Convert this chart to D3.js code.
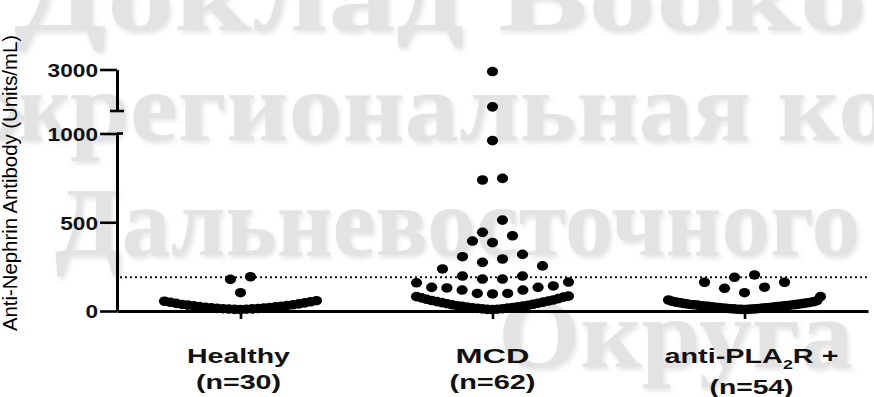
<!DOCTYPE html>
<html>
<head>
<meta charset="utf-8">
<script src="https://cdn.jsdelivr.net/npm/d3@7"></script>
<style>
  html, body { margin: 0; padding: 0; background: #fff; }
  svg { display: block; }
</style>
</head>
<body>
<svg id="chart" width="874" height="397"></svg>
<script>
// ---------------- data ----------------
const groups = ["Healthy", "MCD", "anti-PLA2R +"];
const groupCounts = ["(n=30)", "(n=62)", "(n=54)"];

const healthyValues = [178, 193, 103,
  8, 9, 10, 11, 12, 13, 14, 15, 17, 18, 20, 21, 23, 25, 27, 29,
  31, 33, 35, 37, 40, 43, 46, 49, 52, 55, 58];

const mcdValues = [2900, 1200, 960, 738, 747, 512, 424, 443, 385, 394,
  319, 306, 293, 274, 237, 254, 197, 180, 180, 197,
  159, 141, 133, 118, 99, 96, 99, 118, 130, 133, 163,
  8, 9, 10, 12, 13, 15, 16, 18, 20, 22, 24, 26, 28, 30, 32, 35,
  38, 41, 44, 47, 50, 53, 56, 59, 62, 66, 70, 74, 78, 81, 84];

const pla2rValues = [203, 190, 162, 162, 134, 128, 103, 81, 62,
  8, 9, 9, 10, 11, 12, 12, 13, 14, 15, 16, 17, 18, 19, 20, 21, 22, 24, 25, 26,
  27, 28, 29, 30, 31, 33, 34, 35, 36, 37, 39, 40, 42, 43, 45, 47, 48, 50, 52, 55, 58];

const lowerTicks = [0, 500, 1000];
const upperTicks = [3000];
const thresholdValue = 190;

const watermarkLines = ["Доклад Вооко", "жрегиональная ко", "Дальневосточного", "Округа"];

// ---------------- layout ----------------
const svg = d3.select("#chart");
svg.append("rect").attr("width", 874).attr("height", 397).attr("fill", "#fff");

const defs = svg.append("defs");
const f = defs.append("filter").attr("id", "sh").attr("x", "-5%").attr("y", "-10%").attr("width", "115%").attr("height", "130%");
f.append("feDropShadow").attr("dx", 2).attr("dy", 3).attr("stdDeviation", 2)
  .attr("flood-color", "#999").attr("flood-opacity", 0.25);

// watermark
const wmPos = [
  {x: 14, y: 30, len: 853},
  {x: -8, y: 140, len: 900},
  {x: 55, y: 255, len: 805},
  {x: 498, y: 367, len: 355}
];
const wm = svg.append("g").attr("filter", "url(#sh)");
watermarkLines.forEach((t, i) => {
  wm.append("text")
    .attr("x", wmPos[i].x).attr("y", wmPos[i].y)
    .attr("textLength", wmPos[i].len).attr("lengthAdjust", "spacingAndGlyphs")
    .attr("font-family", "'Liberation Serif', 'DejaVu Serif', serif")
    .attr("font-weight", "bold").attr("font-size", 98)
    .attr("fill", "#e3e3e3")
    .text(t);
});

// scales
const xAxisLeft = 117, xAxisRight = 868;
const x = d3.scalePoint().domain(groups).range([xAxisLeft, xAxisRight]).padding(0.49);
const yLow = d3.scaleLinear().domain([0, 1000]).range([311, 133.5]);
const yHigh = d3.scaleLinear().domain([1000, 3000]).range([111, 69.5]);
const y = v => (v <= 1000 ? yLow(v) : yHigh(v));

// threshold dotted line
svg.append("line")
  .attr("x1", 120).attr("x2", 867)
  .attr("y1", yLow(thresholdValue)).attr("y2", yLow(thresholdValue))
  .attr("stroke", "#111").attr("stroke-width", 2)
  .attr("stroke-dasharray", "2,3");

// axes
const axisColor = "#000";
function styleAxis(g) {
  g.selectAll("path.domain").attr("stroke", axisColor).attr("stroke-width", 3);
  g.selectAll(".tick line").attr("stroke", axisColor).attr("stroke-width", 2.6);
}

const gLow = svg.append("g").attr("transform", `translate(${xAxisLeft},0)`)
  .call(d3.axisLeft(yLow).tickValues(lowerTicks).tickSize(17).tickSizeOuter(0).tickFormat(d3.format("d")));
const gHigh = svg.append("g").attr("transform", `translate(${xAxisLeft},0)`)
  .call(d3.axisLeft(yHigh).tickValues(upperTicks).tickSize(17).tickSizeOuter(0).tickFormat(d3.format("d")));
[gLow, gHigh].forEach(g => {
  styleAxis(g);
  g.selectAll(".tick text")
    .attr("x", -19).attr("dy", "0.36em")
    .attr("font-family", "'Liberation Sans', Arial, sans-serif")
    .attr("font-weight", "bold").attr("font-size", 19).attr("fill", "#111")
    .attr("lengthAdjust", "spacingAndGlyphs")
    .attr("textLength", d => String(d).length * 12.6);
});
// break caps
svg.append("line").attr("x1", xAxisLeft - 7).attr("x2", xAxisLeft + 7)
  .attr("y1", yHigh(1000)).attr("y2", yHigh(1000))
  .attr("stroke", axisColor).attr("stroke-width", 2.6);
svg.append("line").attr("x1", xAxisLeft).attr("x2", xAxisLeft + 6)
  .attr("y1", yLow(1000)).attr("y2", yLow(1000))
  .attr("stroke", axisColor).attr("stroke-width", 2.6);

const gx = svg.append("g").attr("transform", `translate(0,${yLow(0)})`)
  .call(d3.axisBottom(x).tickSize(8).tickSizeOuter(0).tickFormat(""));
styleAxis(gx);

// y title
svg.append("text")
  .attr("transform", "translate(17,183) rotate(-90)")
  .attr("text-anchor", "middle")
  .attr("font-family", "'Liberation Sans', Arial, sans-serif")
  .attr("font-size", 20).attr("fill", "#000")
  .attr("textLength", 296).attr("lengthAdjust", "spacingAndGlyphs")
  .text("Anti-Nephrin Antibody (Units/mL)");

// swarm layout: values grouped into value bins, spread alternately left/right
const BIN = 88, MAXW = 152, STEP = 20;
function swarm(values, cx) {
  const out = [];
  const sorted = values.slice().sort(d3.ascending);
  const bins = d3.groups(sorted, v => Math.floor(v / BIN));
  bins.forEach(([, arr]) => {
    const n = arr.length;
    const s = n > 1 ? Math.min(STEP, MAXW / (n - 1)) : 0;
    arr.forEach((v, i) => {
      let k;
      if (n % 2 === 1) {
        k = i === 0 ? 0 : Math.ceil(i / 2) * (i % 2 === 1 ? -1 : 1);
      } else {
        k = (Math.floor(i / 2) + 0.5) * (i % 2 === 0 ? -1 : 1);
      }
      out.push({v, x: cx + k * s, y: y(v)});
    });
  });
  return out;
}

const seriesList = [healthyValues, mcdValues, pla2rValues];
const dotsG = svg.append("g");
seriesList.forEach((vals, gi) => {
  const pts = swarm(vals, x(groups[gi]));
  dotsG.selectAll(null).data(pts).enter().append("ellipse")
    .attr("cx", d => d.x).attr("cy", d => d.y)
    .attr("rx", 5.6).attr("ry", 4.8)
    .attr("fill", "#000");
});

// category labels
const labelFont = "'Liberation Sans', Arial, sans-serif";
const labelCfg = [
  {dx: -2, len1: 103, len2: 85, y2: 389},
  {dx: 0, len1: 74, len2: 86, y2: 389},
  {dx: 7, len1: 174, len2: 84, y2: 394}
];
groups.forEach((g, i) => {
  const cx = x(g) + labelCfg[i].dx;
  const t = svg.append("text")
    .attr("x", cx).attr("y", 363)
    .attr("text-anchor", "middle")
    .attr("font-family", labelFont).attr("font-weight", "bold")
    .attr("font-size", 21).attr("fill", "#111")
    .attr("textLength", labelCfg[i].len1).attr("lengthAdjust", "spacingAndGlyphs");
  if (g === "anti-PLA2R +") {
    t.append("tspan").text("anti-PLA");
    t.append("tspan").attr("font-size", 13).attr("dy", 6).text("2");
    t.append("tspan").attr("dy", -6).text("R +");
  } else {
    t.text(g);
  }
  svg.append("text")
    .attr("x", cx).attr("y", labelCfg[i].y2)
    .attr("text-anchor", "middle")
    .attr("font-family", labelFont).attr("font-weight", "bold")
    .attr("font-size", 21).attr("fill", "#111")
    .attr("textLength", labelCfg[i].len2).attr("lengthAdjust", "spacingAndGlyphs")
    .text(groupCounts[i]);
});
</script>
</body>
</html>
